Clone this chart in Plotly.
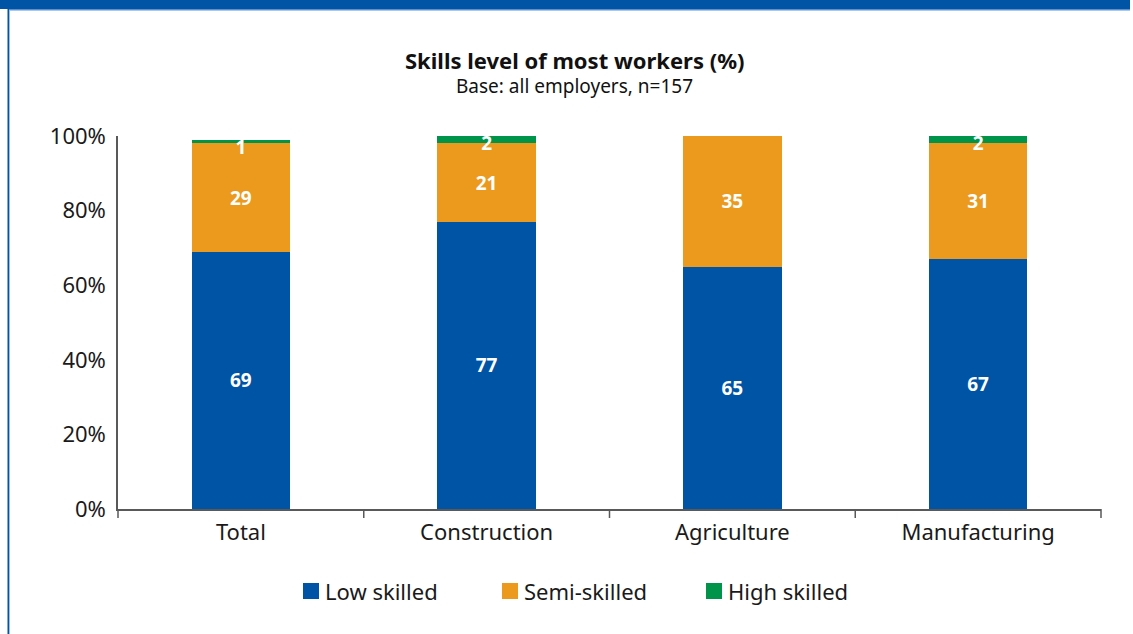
import plotly.graph_objects as go

categories = ["Total", "Construction", "Agriculture", "Manufacturing"]
low_skilled = [69, 77, 65, 67]
semi_skilled = [29, 21, 35, 31]
high_skilled = [1, 2, 0, 2]
series_names = ["Low skilled", "Semi-skilled", "High skilled"]
y_ticks = [0, 20, 40, 60, 80, 100]
y_tick_labels = ["0%", "20%", "40%", "60%", "80%", "100%"]

BLUE = "#0054A6"
ORANGE = "#EB9A1E"
GREEN = "#00944A"
COLORS = [BLUE, ORANGE, GREEN]
FONT = "Noto Sans"
TXT = "#1a1a1a"

W, H = 1133, 634
L, R, T, B = 118, 32, 136, 125
PW, PH = W - L - R, H - T - B


def px_x(p):
    return (p - L) / PW


def px_y(p):
    return (H - B - p) / PH


label_font = dict(color="white", size=19, family=FONT, weight="bold")

fig = go.Figure()
fig.add_trace(go.Bar(
    x=categories, y=low_skilled, name=series_names[0], marker_color=COLORS[0],
    text=low_skilled, textposition="inside", insidetextanchor="middle",
    textfont=label_font, showlegend=False,
))
fig.add_trace(go.Bar(
    x=categories, y=semi_skilled, name=series_names[1], marker_color=COLORS[1],
    text=semi_skilled, textposition="inside", insidetextanchor="middle",
    textfont=label_font, showlegend=False,
))
fig.add_trace(go.Bar(
    x=categories, y=high_skilled, name=series_names[2], marker_color=COLORS[2],
    showlegend=False,
))

# High-skilled labels sit just under the top of each stack
tops = [a + b + c for a, b, c in zip(low_skilled, semi_skilled, high_skilled)]
hs_cats = [c for c, v in zip(categories, high_skilled) if v > 0]
hs_tops = [t for t, v in zip(tops, high_skilled) if v > 0]
hs_text = [str(v) for v in high_skilled if v > 0]
fig.add_trace(go.Scatter(
    x=hs_cats, y=hs_tops, mode="text", text=hs_text,
    textposition="bottom center", showlegend=False, hoverinfo="skip",
    textfont=label_font, cliponaxis=False,
))

fig.update_traces(marker_line_width=0, selector=dict(type="bar"))

shapes = [
    # top banner
    dict(type="rect", xref="paper", yref="paper",
         x0=px_x(0), x1=px_x(1130), y0=px_y(9), y1=px_y(-2),
         fillcolor=BLUE, line_width=0, layer="above"),
    dict(type="rect", xref="paper", yref="paper",
         x0=px_x(8), x1=px_x(1130), y0=px_y(10.5), y1=px_y(9),
         fillcolor="#5B8FD0", line_width=0, layer="above"),
    # left frame line
    dict(type="rect", xref="paper", yref="paper",
         x0=px_x(7.5), x1=px_x(9), y0=px_y(640), y1=px_y(9),
         fillcolor=BLUE, line_width=0, layer="above"),
    dict(type="rect", xref="paper", yref="paper",
         x0=px_x(9), x1=px_x(10), y0=px_y(640), y1=px_y(10),
         fillcolor="#9DBDE6", line_width=0, layer="above"),
]

annotations = [
    dict(text="<b>Skills level of most workers (%)</b>", xref="paper", yref="paper",
         x=px_x(574), y=px_y(60), xanchor="center", yanchor="middle", showarrow=False,
         font=dict(size=22, family=FONT, color="#111111")),
    dict(text="Base: all employers, n=157", xref="paper", yref="paper",
         x=px_x(574), y=px_y(86), xanchor="center", yanchor="middle", showarrow=False,
         font=dict(size=19, family=FONT, color="#111111")),
]

# legend: colour square followed by series name
legend_x = [303, 502, 706]
legend_y = 591
for name, color, lx in zip(series_names, COLORS, legend_x):
    shapes.append(dict(type="rect", xref="paper", yref="paper",
                       x0=px_x(lx), x1=px_x(lx + 16),
                       y0=px_y(legend_y + 8), y1=px_y(legend_y - 8),
                       fillcolor=color, line_width=0))
    annotations.append(dict(text=name, xref="paper", yref="paper",
                            x=px_x(lx + 20), y=px_y(legend_y), xanchor="left",
                            yanchor="middle", showarrow=False,
                            font=dict(size=22, family=FONT, color=TXT)))

fig.update_layout(
    width=W, height=H,
    margin=dict(l=L, r=R, t=T, b=B, pad=0),
    barmode="stack", bargap=0.6,
    plot_bgcolor="white", paper_bgcolor="white",
    font=dict(family=FONT, color=TXT, size=22),
    showlegend=False,
    xaxis=dict(showline=True, linecolor="#595959", linewidth=1.5,
               ticks="", showgrid=False, ticklabelstandoff=3,
               tickfont=dict(size=22, family=FONT, color=TXT)),
    yaxis=dict(range=[0, 100], tickvals=y_ticks, ticktext=y_tick_labels,
               showline=True, linecolor="#595959", linewidth=1.5, showgrid=False,
               ticks="", zeroline=False, ticklabelstandoff=6,
               tickfont=dict(size=22, family=FONT, color=TXT)),
    shapes=shapes,
    annotations=annotations,
)

# category separator ticks on the x-axis
for i in range(len(categories) + 1):
    xp = i / len(categories)
    fig.add_shape(type="line", xref="paper", yref="paper", x0=xp, x1=xp,
                  y0=0, y1=px_y(518), line=dict(color="#595959", width=1.5))

fig.write_html("out.html")
